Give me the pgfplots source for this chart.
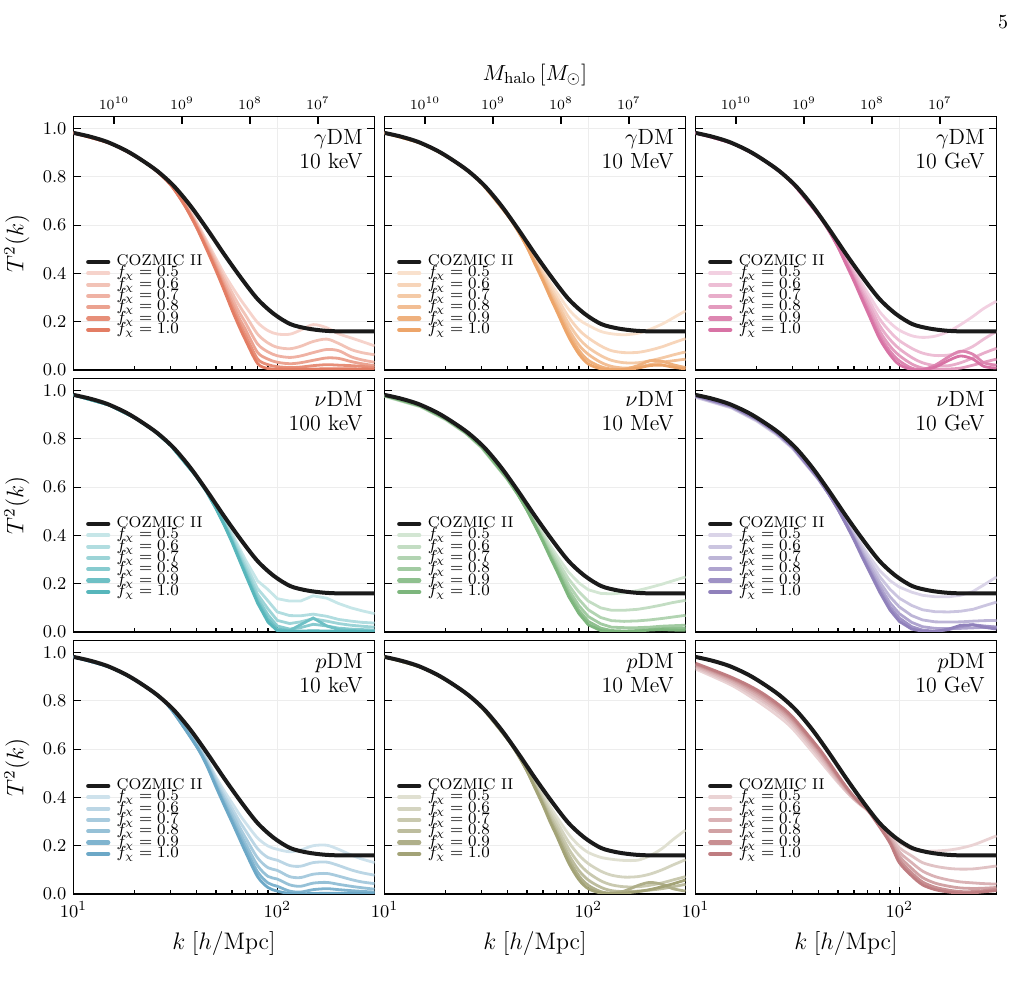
\documentclass[border=0pt]{standalone}
\usepackage{pgfplots}
\pgfplotsset{compat=1.18}
\usepackage{pgfplotstable}

% ---------- base colours (f_chi = 1.0); lighter shades are mixed with white
\definecolor{cA}{RGB}{226,118,92}
\definecolor{cB}{RGB}{236,160,98}
\definecolor{cC}{RGB}{214,108,160}
\definecolor{cD}{RGB}{78,178,184}
\definecolor{cE}{RGB}{118,178,118}
\definecolor{cF}{RGB}{138,122,184}
\definecolor{cG}{RGB}{100,163,196}
\definecolor{cH}{RGB}{158,158,112}
\definecolor{cI}{RGB}{188,118,122}
\definecolor{coz}{RGB}{26,26,26}

% ---------- COZMIC II reference transfer function
\pgfplotstableread{
k T
10 0.982
12 0.967
14.6 0.945
18 0.910
21.3 0.873
25.7 0.825
31 0.763
37.5 0.680
45.3 0.583
54.8 0.480
66.2 0.383
80 0.294
96.3 0.232
116 0.190
140 0.172
169 0.163
200 0.160
250 0.160
300 0.160
}\cozmic

% ---------- gamma DM, 10 keV   (columns a..f : f_chi = 0.5 ... 1.0)
\pgfplotstableread{
k a b c d e f
10 .982 .982 .982 .982 .982 .982
15 .940 .940 .940 .940 .940 .940
20 .887 .887 .887 .887 .887 .887
25 .832 .832 .832 .832 .831 .831
30 .771 .770 .769 .768 .767 .766
35 .695 .692 .689 .687 .685 .683
40 .615 .609 .604 .600 .596 .593
45 .535 .526 .518 .511 .505 .500
50 .462 .450 .439 .429 .420 .412
55 .397 .380 .364 .350 .338 .328
60 .345 .320 .298 .278 .262 .248
65 .300 .268 .240 .215 .195 .180
70 .262 .226 .194 .166 .142 .122
80 .197 .149 .108 .073 .046 .027
90 .163 .112 .075 .045 .022 .006
100 .149 .094 .059 .032 .014 .004
115 .148 .088 .052 .026 .010 .003
130 .165 .098 .058 .030 .012 .003
150 .188 .118 .072 .040 .018 .004
175 .175 .128 .085 .050 .022 .005
200 .150 .110 .080 .048 .020 .005
230 .133 .085 .055 .035 .018 .005
260 .118 .072 .042 .026 .015 .004
300 .100 .063 .032 .018 .010 .003
}\tabA

% ---------- gamma DM, 10 MeV
\pgfplotstableread{
k a b c d e f
10 .982 .982 .982 .982 .982 .982
15 .940 .940 .940 .940 .940 .940
20 .887 .887 .887 .887 .887 .887
25 .832 .832 .832 .832 .832 .832
30 .773 .773 .773 .773 .773 .773
40 .645 .645 .644 .644 .643 .643
45 .583 .582 .581 .580 .579 .578
50 .523 .520 .517 .514 .511 .509
55 .463 .456 .450 .444 .439 .435
60 .412 .401 .391 .382 .374 .368
65 .362 .347 .333 .321 .310 .302
70 .322 .302 .284 .268 .255 .244
80 .252 .220 .193 .170 .152 .138
90 .209 .166 .131 .103 .081 .066
100 .185 .133 .093 .065 .040 .025
115 .160 .100 .060 .032 .014 .005
130 .150 .080 .040 .015 .004 .001
150 .146 .072 .030 .008 .003 .002
175 .152 .073 .030 .012 .018 .008
200 .168 .082 .038 .022 .038 .018
230 .190 .096 .050 .032 .036 .020
260 .215 .112 .062 .038 .022 .012
300 .245 .130 .075 .045 .010 .004
}\tabB

% ---------- gamma DM, 10 GeV
\pgfplotstableread{
k a b c d e f
10 .982 .982 .982 .982 .982 .982
15 .940 .940 .940 .940 .940 .940
20 .887 .887 .887 .887 .887 .887
25 .832 .832 .832 .832 .832 .832
30 .773 .773 .773 .773 .773 .773
40 .645 .645 .644 .644 .643 .643
45 .583 .582 .581 .580 .579 .578
50 .523 .520 .517 .514 .511 .509
55 .466 .459 .452 .446 .440 .435
60 .415 .404 .393 .383 .374 .367
65 .364 .348 .334 .321 .309 .300
70 .319 .299 .281 .264 .250 .239
80 .242 .212 .185 .162 .143 .130
90 .196 .159 .126 .099 .078 .063
100 .165 .122 .088 .060 .038 .022
115 .142 .090 .052 .025 .008 .002
130 .135 .070 .030 .008 .002 .001
150 .140 .060 .018 .003 .020 .012
175 .160 .062 .018 .004 .055 .040
200 .188 .075 .030 .008 .078 .058
230 .222 .098 .050 .020 .065 .045
260 .255 .128 .070 .032 .030 .015
300 .285 .160 .090 .045 .020 .008
}\tabC

% ---------- nu DM, 100 keV
\pgfplotstableread{
k a b c d e f
10 .982 .982 .982 .982 .982 .982
15 .940 .940 .940 .940 .940 .940
20 .887 .887 .887 .887 .887 .887
25 .832 .832 .832 .832 .832 .832
30 .773 .773 .773 .773 .773 .773
40 .646 .646 .646 .645 .645 .645
45 .585 .584 .583 .582 .581 .580
50 .523 .520 .517 .515 .513 .511
55 .463 .457 .452 .448 .444 .441
60 .407 .397 .389 .382 .376 .371
65 .349 .336 .324 .314 .306 .300
70 .297 .280 .265 .253 .243 .235
80 .212 .180 .156 .140 .128 .120
90 .176 .129 .096 .071 .053 .041
100 .138 .083 .048 .025 .012 .005
115 .128 .068 .035 .012 .006 .003
130 .128 .067 .042 .018 .030 .004
150 .150 .074 .055 .032 .058 .005
175 .140 .065 .045 .025 .025 .004
200 .118 .052 .035 .016 .010 .003
230 .100 .045 .028 .012 .006 .003
260 .088 .040 .024 .010 .005 .002
300 .076 .037 .020 .008 .004 .002
}\tabD

% ---------- nu DM, 10 MeV
\pgfplotstableread{
k a b c d e f
10 .976 .977 .978 .979 .980 .980
15 .933 .934 .935 .936 .937 .937
20 .878 .880 .881 .882 .883 .883
25 .823 .824 .825 .826 .827 .827
30 .762 .764 .765 .766 .767 .768
40 .632 .634 .635 .636 .637 .637
45 .570 .571 .572 .572 .572 .572
50 .510 .509 .508 .507 .506 .505
55 .455 .450 .446 .442 .439 .437
60 .407 .398 .390 .383 .377 .373
65 .359 .346 .334 .324 .316 .310
70 .317 .300 .285 .272 .262 .254
80 .248 .220 .196 .176 .160 .148
90 .203 .166 .135 .109 .089 .076
100 .175 .128 .092 .064 .044 .030
115 .160 .100 .060 .034 .016 .006
130 .158 .090 .047 .020 .006 .002
150 .162 .090 .044 .018 .004 .002
175 .172 .094 .046 .018 .006 .004
200 .184 .102 .050 .020 .010 .008
230 .198 .112 .056 .024 .014 .010
260 .212 .122 .062 .026 .015 .008
300 .228 .131 .069 .028 .014 .007
}\tabE

% ---------- nu DM, 10 GeV
\pgfplotstableread{
k a b c d e f
10 .972 .974 .976 .977 .978 .979
15 .928 .930 .932 .934 .935 .936
20 .873 .876 .878 .880 .881 .882
25 .817 .820 .822 .824 .825 .826
30 .759 .762 .764 .765 .766 .767
40 .632 .634 .635 .636 .637 .637
45 .572 .573 .573 .573 .573 .573
50 .513 .512 .511 .510 .509 .508
55 .460 .456 .452 .448 .445 .443
60 .412 .404 .397 .390 .385 .381
65 .364 .352 .341 .332 .324 .319
70 .322 .307 .293 .281 .271 .264
80 .255 .230 .208 .190 .176 .166
90 .213 .177 .146 .121 .103 .091
100 .186 .140 .104 .076 .058 .044
115 .165 .110 .068 .040 .022 .012
130 .152 .092 .050 .022 .008 .003
150 .146 .084 .042 .015 .003 .002
175 .146 .083 .041 .014 .010 .012
200 .152 .086 .042 .015 .022 .028
230 .168 .094 .045 .017 .030 .030
260 .195 .108 .047 .019 .025 .020
300 .228 .124 .048 .021 .020 .012
}\tabF

% ---------- p DM, 10 keV
\pgfplotstableread{
k a b c d e f
10 .982 .982 .982 .982 .982 .982
15 .940 .940 .940 .940 .940 .940
20 .887 .887 .887 .887 .887 .887
25 .832 .832 .832 .832 .832 .832
30 .772 .771 .770 .769 .768 .767
40 .629 .625 .621 .618 .615 .613
45 .560 .553 .547 .542 .537 .533
50 .485 .475 .465 .457 .450 .444
55 .426 .410 .396 .384 .374 .366
60 .377 .355 .337 .320 .307 .297
65 .332 .304 .280 .260 .244 .232
70 .294 .262 .232 .208 .188 .172
80 .232 .188 .150 .118 .092 .072
90 .199 .151 .109 .073 .046 .027
100 .185 .140 .098 .062 .032 .012
115 .175 .118 .072 .038 .012 .002
130 .182 .115 .068 .032 .008 .001
150 .200 .130 .082 .045 .018 .002
175 .202 .132 .085 .048 .022 .003
200 .185 .118 .074 .040 .018 .003
230 .162 .100 .060 .032 .014 .003
260 .145 .088 .050 .026 .011 .003
300 .130 .078 .043 .020 .008 .003
}\tabG

% ---------- p DM, 10 MeV
\pgfplotstableread{
k a b c d e f
10 .982 .982 .982 .982 .982 .982
15 .940 .940 .940 .940 .940 .940
20 .887 .887 .887 .887 .887 .887
25 .832 .832 .832 .832 .832 .832
30 .773 .773 .773 .773 .773 .773
40 .645 .645 .644 .644 .643 .643
45 .583 .582 .581 .580 .579 .578
50 .522 .519 .516 .513 .511 .509
55 .463 .456 .450 .444 .439 .435
60 .412 .400 .390 .381 .373 .367
65 .362 .346 .331 .318 .307 .298
70 .320 .300 .281 .265 .251 .240
80 .248 .216 .188 .164 .145 .130
90 .201 .161 .126 .097 .075 .059
100 .172 .126 .088 .058 .036 .022
115 .152 .095 .055 .028 .010 .004
130 .144 .078 .038 .014 .004 .002
150 .139 .070 .030 .010 .012 .004
175 .140 .072 .030 .012 .035 .010
200 .158 .082 .036 .016 .048 .018
230 .188 .100 .046 .022 .040 .030
260 .225 .120 .058 .030 .022 .042
300 .265 .142 .072 .040 .012 .058
}\tabH

% ---------- p DM, 10 GeV
\pgfplotstableread{
k a b c d e f
10 .932 .938 .944 .949 .953 .956
15 .865 .874 .882 .889 .894 .898
20 .800 .813 .823 .832 .839 .846
25 .742 .757 .768 .777 .784 .791
30 .684 .699 .710 .719 .726 .733
40 .560 .574 .585 .594 .601 .607
45 .508 .518 .528 .536 .542 .548
50 .462 .467 .475 .482 .487 .492
55 .424 .425 .431 .436 .440 .443
60 .392 .392 .396 .399 .401 .403
65 .366 .369 .370 .371 .372 .372
70 .345 .350 .350 .349 .348 .347
80 .296 .294 .290 .286 .282 .278
90 .252 .243 .234 .225 .217 .211
100 .214 .192 .174 .157 .142 .130
115 .186 .158 .130 .106 .088 .075
130 .178 .130 .095 .068 .050 .038
150 .178 .115 .072 .045 .028 .018
175 .182 .106 .058 .032 .016 .008
200 .190 .103 .050 .025 .010 .004
230 .203 .104 .046 .023 .010 .005
260 .220 .109 .043 .024 .014 .009
300 .241 .116 .041 .027 .020 .014
}\tabI

% options shared by every axis of the figure
\pgfplotsset{
  every axis/.append style={
    xmode=log, xmin=10, xmax=300, ymin=0, ymax=1.05,
    scale only axis, width=150.5bp, height=126.75bp,
    tick align=inside, major tick length=3.6bp, minor tick length=2bp,
    tick style={black, line width=0.6bp},
    axis line style={line width=0.9bp},
    legend image code/.code={\draw[##1, line width=2.1bp, line cap=round] (0bp,0bp) -- (10bp,0bp);},
  },
}

% six f_chi curves of one panel plus the COZMIC II curve on top
\newcommand{\lgd}[1]{\fontsize{7.8}{9}\selectfont #1}
\newcommand{\fcurves}[3]{%
  \addlegendimage{color=coz}\addlegendentry{\lgd{COZMIC II}}
  \addplot[line width=1.4bp, #2!32, #3] table[x=k, y=a]{#1}; \addlegendentry{\lgd{$f_\chi=0.5$}}
  \addplot[line width=1.4bp, #2!44, #3] table[x=k, y=b]{#1}; \addlegendentry{\lgd{$f_\chi=0.6$}}
  \addplot[line width=1.4bp, #2!56, #3] table[x=k, y=c]{#1}; \addlegendentry{\lgd{$f_\chi=0.7$}}
  \addplot[line width=1.4bp, #2!68, #3] table[x=k, y=d]{#1}; \addlegendentry{\lgd{$f_\chi=0.8$}}
  \addplot[line width=1.4bp, #2!82, #3] table[x=k, y=e]{#1}; \addlegendentry{\lgd{$f_\chi=0.9$}}
  \addplot[line width=1.4bp, #2!95, #3] table[x=k, y=f]{#1}; \addlegendentry{\lgd{$f_\chi=1.0$}}
  \addplot[color=coz, line width=2bp, smooth, tension=0.5, forget plot] table[x=k, y=T]{\cozmic};
}
% model name and mass in the upper right corner
\newcommand{\plabel}[2]{%
  \node[anchor=base east, inner sep=0pt, font=\fontsize{11}{13}\selectfont]
    at (rel axis cs:0.962,0.888) {#1};
  \node[anchor=base east, inner sep=0pt, font=\fontsize{11}{13}\selectfont]
    at (rel axis cs:0.962,0.795) {#2};
}
% halo-mass scale along the top edge of a panel of the first row
\newcommand{\masstop}[1]{%
\begin{axis}[at={#1}, anchor=south west,
    axis x line*=top, hide y axis, xticklabel pos=right,
    xtick={15.8,34.1,73.5,158.3},
    xticklabels={$10^{10}$,$10^{9}$,$10^{8}$,$10^{7}$},
    xminorticks=false, minor x tick style={draw=none},
    xticklabel style={font=\fontsize{7}{8}\selectfont}]
  \addplot[draw=none, forget plot] coordinates {(20,0.5) (200,0.5)};
\end{axis}}

\begin{document}
\begin{tikzpicture}
\path[use as bounding box] (0,0) rectangle (507bp,495bp);
\node[font=\fontsize{10}{12}\selectfont] at (501.5bp,484bp) {5};
\node[font=\fontsize{11}{13}\selectfont] at (267.5bp,457.5bp) {$M_{\mathrm{halo}}\,[M_\odot]$};

\pgfplotsset{
  every axis/.append style={
    xtick={10,100}, minor xtick={20,30,40,50,60,70,80,90},
    ytick={0,0.2,0.4,0.6,0.8,1},
    xtick pos=left, ytick pos=both,
    grid=major, major grid style={black!7, line width=0.5bp},
    tick label style={font=\fontsize{9.5}{11}\selectfont},
    label style={font=\fontsize{12}{14}\selectfont},
    yticklabel style={/pgf/number format/.cd, fixed, fixed zerofill, precision=1, /tikz/.cd},
    legend style={at={(0.042,0.44)}, anchor=north west, draw=none, fill=none,
      inner sep=0pt, outer sep=0pt, row sep=2.05bp, column sep=3.2bp,
      nodes={inner sep=0pt, text height=3.6bp, text depth=0bp}},
    legend cell align=left,
  },
}

% ---------------- top row: gamma DM
\begin{axis}[at={(36.75bp,310bp)}, anchor=south west, xticklabels={}, ylabel={$T^2(k)$}]
\fcurves{\tabA}{cA}{smooth}
\plabel{$\gamma$DM}{10 keV}
\end{axis}

\begin{axis}[at={(192.25bp,310bp)}, anchor=south west, xticklabels={}, yticklabels={}]
\fcurves{\tabB}{cB}{smooth}
\plabel{$\gamma$DM}{10 MeV}
\end{axis}

\begin{axis}[at={(347.75bp,310bp)}, anchor=south west, xticklabels={}, yticklabels={}]
\fcurves{\tabC}{cC}{smooth}
\plabel{$\gamma$DM}{10 GeV}
\end{axis}

% ---------------- middle row: nu DM
\begin{axis}[at={(36.75bp,179bp)}, anchor=south west, xticklabels={}, ylabel={$T^2(k)$}]
\fcurves{\tabD}{cD}{}
\plabel{$\nu$DM}{100 keV}
\end{axis}

\begin{axis}[at={(192.25bp,179bp)}, anchor=south west, xticklabels={}, yticklabels={}]
\fcurves{\tabE}{cE}{}
\plabel{$\nu$DM}{10 MeV}
\end{axis}

\begin{axis}[at={(347.75bp,179bp)}, anchor=south west, xticklabels={}, yticklabels={}]
\fcurves{\tabF}{cF}{}
\plabel{$\nu$DM}{10 GeV}
\end{axis}

% ---------------- bottom row: p DM
\begin{axis}[at={(36.75bp,48bp)}, anchor=south west, ylabel={$T^2(k)$}, xlabel={$k\;[h/\mathrm{Mpc}]$}]
\fcurves{\tabG}{cG}{smooth}
\plabel{$p$DM}{10 keV}
\end{axis}

\begin{axis}[at={(192.25bp,48bp)}, anchor=south west, yticklabels={}, xlabel={$k\;[h/\mathrm{Mpc}]$}]
\fcurves{\tabH}{cH}{smooth}
\plabel{$p$DM}{10 MeV}
\end{axis}

\begin{axis}[at={(347.75bp,48bp)}, anchor=south west, yticklabels={}, xlabel={$k\;[h/\mathrm{Mpc}]$}]
\fcurves{\tabI}{cI}{smooth}
\plabel{$p$DM}{10 GeV}
\end{axis}

% ---------------- halo-mass ticks above the first row
\pgfplotsset{every axis/.append style={grid=none, xtick pos=right, ytick=\empty}}
\masstop{(36.75bp,310bp)}
\masstop{(192.25bp,310bp)}
\masstop{(347.75bp,310bp)}
\end{tikzpicture}
\end{document}
